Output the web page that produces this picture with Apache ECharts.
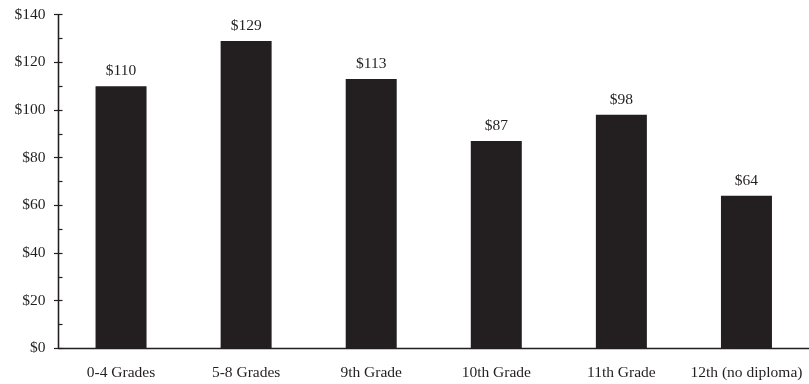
<!DOCTYPE html>
<html><head><meta charset="utf-8">
<script src="https://cdn.jsdelivr.net/npm/echarts@6/dist/echarts.min.js"></script>
<style>html,body{margin:0;padding:0;background:#fff}#c{width:809px;height:384px}</style>
</head><body><div id="c"></div>
<script>
var categories = ['0-4 Grades','5-8 Grades','9th Grade','10th Grade','11th Grade','12th (no diploma)'];
var values = [110, 129, 113, 87, 98, 64];
var yMin = 0, yMax = 140, yInterval = 20;

var font = 'Liberation Serif';
var chart = echarts.init(document.getElementById('c'), null, {renderer:'canvas'});
var baseY = {
  type:'value', min:yMin, max:yMax, interval:yInterval,
  splitLine:{show:false},
  axisLine:{show:true, lineStyle:{color:'#231f20', width:1.3}}
};
chart.setOption({
  animation:false,
  grid:{left:58.5, top:14.7, width:754.8, height:333.6, containLabel:false},
  xAxis:{
    type:'category', data:categories,
    axisLine:{lineStyle:{color:'#231f20', width:1.3}},
    axisTick:{show:false},
    axisLabel:{color:'#231f20', fontFamily:font, fontSize:15.5, margin:17, interval:0, hideOverlap:false}
  },
  yAxis:[
    Object.assign({}, baseY, {
      axisTick:{show:true, inside:false, length:4.5, lineStyle:{color:'#231f20', width:1.2}},
      axisLabel:{color:'#231f20', fontFamily:font, fontSize:15.5, margin:13,
        formatter:function(v){return '$'+v;}}
    }),
    Object.assign({}, baseY, {
      position:'left',
      axisTick:{show:true, inside:true, length:4, lineStyle:{color:'#231f20', width:1.2}},
      minorTick:{show:true, splitNumber:2, length:4, lineStyle:{color:'#231f20', width:1.2}},
      axisLabel:{show:false}
    })
  ],
  series:[{
    type:'bar', data:values, barWidth:51, yAxisIndex:0,
    itemStyle:{color:'#231f20'},
    label:{show:true, position:'top', distance:7, color:'#231f20', fontFamily:font, fontSize:15.5,
      formatter:function(p){return '$'+p.value;}}
  }]
});
</script></body></html>
